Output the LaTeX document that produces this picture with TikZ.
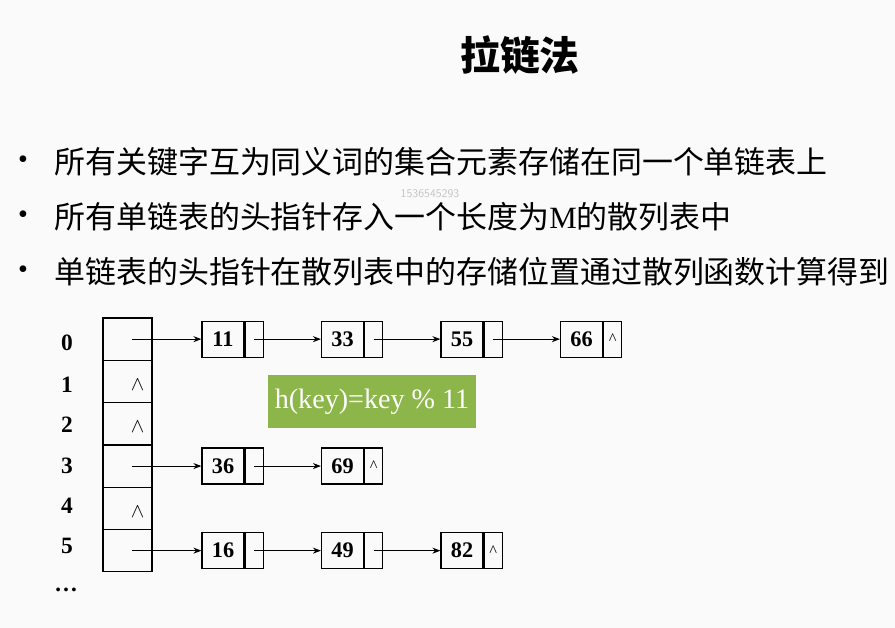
\documentclass[tikz,border=0pt]{standalone}
\usepackage{fontspec}
\setmainfont{Liberation Serif}
\newfontfamily\cjk{Noto Sans CJK SC}
\usetikzlibrary{arrows.meta, positioning}
\definecolor{cgreen}{HTML}{8DB64A}
\definecolor{cgrey}{HTML}{C4C4C4}
\tikzset{
  every picture/.style={line width=0.8pt},
  cell/.style={draw, line width=1pt, minimum width=14.7mm, minimum height=12.7mm, inner sep=0pt},
  datacell/.style={draw, line width=1pt, minimum width=12.6mm, minimum height=10.8mm, inner sep=0pt, font=\fontsize{19}{20}\selectfont\bfseries},
  ptrcell/.style={draw, line width=1pt, minimum width=5.4mm, minimum height=10.8mm, inner sep=0pt, font=\fontsize{14}{16}\selectfont},
  arrow/.style={-{Stealth[length=2.4mm, width=1.8mm]}, line width=0.8pt},
  title/.style={font=\cjk\bfseries\fontsize{34}{40}\selectfont},
  item/.style={anchor=west, inner sep=0pt, font=\cjk\fontsize{26.4}{32}\selectfont},
  idx/.style={font=\fontsize{20}{22}\selectfont\bfseries},
  hashfn/.style={fill=cgreen, text=white, minimum width=62.4mm, minimum height=15.9mm, font=\fontsize{24}{26}\selectfont},
}

\begin{document}
\begin{tikzpicture}[x=0.3mm, y=-0.3mm]
  \clip (0,0) rectangle (895,628);
  \fill[gray!4] (0,0) rectangle (895,628);
  % title and bullets
  \node[title] (title) at (520,55) {拉链法};
  \foreach \i/\y/\txt in {1/162/{所有关键字互为同义词的集合元素存储在同一个单链表上},
      2/217/{所有单链表的头指针存入一个长度为\textrm{M}的散列表中},
      3/272/{单链表的头指针在散列表中的存储位置通过散列函数计算得到}}{
    \node[font=\fontsize{24}{26}\selectfont] (dot\i) at (23,\y) {\textbullet};
    \node[item] (line\i) at (54,\y) {\txt};
  }
  \node[text=cgrey, font=\fontsize{10}{11}\selectfont\sffamily] (mark) at (430,194) {1536545293};
  % hash table
  \foreach \r in {0,...,5}{
    \pgfmathsetmacro{\y}{318+42.3*(\r+0.5)}
    \node[cell] (t\r) at (127.5,\y) {};
  }
  \foreach \r/\y in {0/343,1/385,2/425,3/466,4/506,5/546}
    \node[idx] (i\r) at (67,\y) {\r};
  \node[idx] (more) at (66,590) {\ldots};
  \foreach \r in {1,2,4}
    \node[font=\fontsize{18}{20}\selectfont] (nil\r) at ([xshift=3mm, yshift=-1mm]t\r.center) {$\wedge$};
  % chains
  \foreach \r/\c/\k/\tail in {0/0/11/{}, 0/1/33/{}, 0/2/55/{}, 0/3/66/\textasciicircum,
      3/0/36/{}, 3/1/69/\textasciicircum, 5/0/16/{}, 5/1/49/{}, 5/2/82/\textasciicircum}{
    \pgfmathsetmacro{\y}{318+42.3*(\r+0.5)}
    \node[datacell] (d\r\c) at ({223+119.5*\c},\y) {\k};
    \node[ptrcell, right=0pt of d\r\c] (p\r\c) {\tail};
  }
  % links
  \foreach \r in {0,3,5}
    \draw[arrow] ([xshift=1.3mm]t\r.center) -- (d\r0);
  \foreach \a/\b in {00/01,01/02,02/03,30/31,50/51,51/52}
    \draw[arrow] (p\a.center) -- (d\b);
  % hash function
  \node[hashfn] (hash) at (372,401.5) {h(key)=key \% 11};
\end{tikzpicture}
\end{document}
